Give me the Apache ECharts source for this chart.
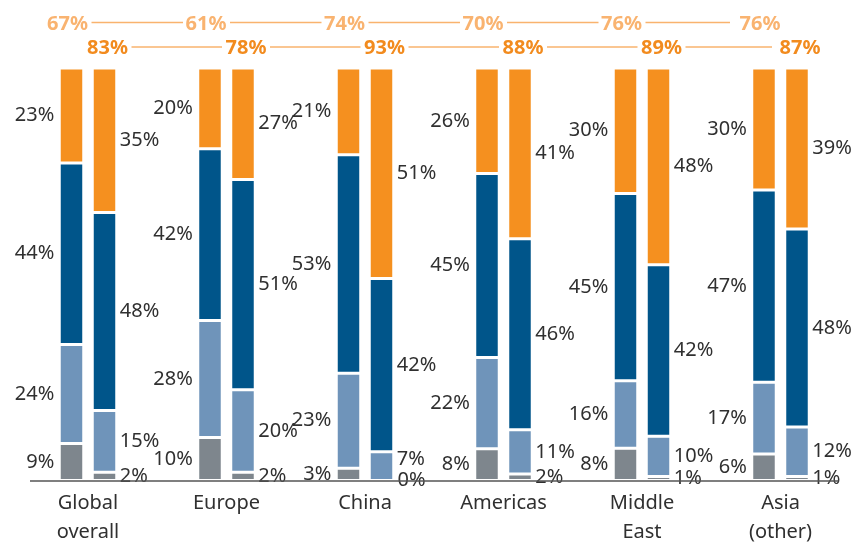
<!DOCTYPE html>
<html>
<head>
<meta charset="utf-8">
<script src="https://cdn.jsdelivr.net/npm/echarts@6/dist/echarts.min.js"></script>
<style>
html,body{margin:0;padding:0;background:#fff;}
#chart{width:851px;height:543px;}
</style>
</head>
<body>
<div id="chart"></div>
<script>
// Categories
const categories = ['Global\noverall', 'Europe', 'China', 'Americas', 'Middle\nEast', 'Asia\n(other)'];

// First (left) bar of each pair, bottom to top
const grayA   = [9, 10.4, 3, 7.7, 7.8, 6.4];
const lightA  = [24, 28.4, 23, 22.1, 16.4, 17.4];
const darkA   = [44, 41.6, 53, 44.6, 45.4, 46.6];
const orangeA = [23, 19.6, 21, 25.6, 30.4, 29.6];

// Second (right) bar of each pair, bottom to top
const grayB   = [2, 2, 0, 1.6, 1.0, 1];
const lightB  = [15, 20, 7, 10.7, 9.7, 12];
const darkB   = [48, 51, 42, 46.3, 41.6, 48];
const orangeB = [35, 27, 51, 41.4, 47.7, 39];

const FONT = '"Noto Sans", "Open Sans", sans-serif';
const TEXT = '#303030';
const COLORS = { gray: '#7E868D', light: '#6F94BA', dark: '#00558A', orange: '#F5901F' };

const totalsA = darkA.map((v, i) => Math.round(v + orangeA[i]));
const totalsB = darkB.map((v, i) => Math.round(v + orangeB[i]));

const BAR_W = 24.5;

function barSeries(name, data, stack, color, side, extra) {
  const s = {
    name: name,
    type: 'bar',
    stack: stack,
    data: data,
    barWidth: BAR_W,
    barGap: '34.7%',
    itemStyle: { color: color, borderColor: '#ffffff', borderWidth: 1.5 },
    label: {
      show: true,
      position: side,
      distance: side === 'left' ? 5 : 3,
      formatter: p => Math.round(p.value) + '%',
      fontSize: 20,
      fontFamily: FONT,
      color: TEXT
    },
    emphasis: { disabled: true },
    animation: false
  };
  return Object.assign(s, extra || {});
}

const chart = echarts.init(document.getElementById('chart'), null, { renderer: 'canvas' });

const option = {
  backgroundColor: '#ffffff',
  animation: false,
  grid: { left: 18.75, right: 1.25, top: 68, bottom: 62.5, containLabel: false, outerBoundsMode: 'none' },
  xAxis: {
    type: 'category',
    data: categories,
    axisLine: { show: false },
    axisTick: { show: false },
    splitLine: { show: false },
    axisLabel: { fontSize: 20, fontFamily: FONT, color: TEXT, lineHeight: 29, margin: 8, interval: 0 }
  },
  yAxis: { type: 'value', min: 0, max: 100, show: false },
  series: [
    barSeries('grayA', grayA, 'a', COLORS.gray, 'left'),
    barSeries('lightA', lightA, 'a', COLORS.light, 'left'),
    barSeries('darkA', darkA, 'a', COLORS.dark, 'left'),
    barSeries('orangeA', orangeA, 'a', COLORS.orange, 'left'),
    barSeries('grayB', grayB, 'b', COLORS.gray, 'right', {}),
    barSeries('lightB', lightB, 'b', COLORS.light, 'right', {
      labelLayout: p => (p.rect && p.rect.height < 35 ? { dy: -7 } : {})
    }),
    barSeries('darkB', darkB, 'b', COLORS.dark, 'right'),
    barSeries('orangeB', orangeB, 'b', COLORS.orange, 'right'),
    {
      type: 'custom',
      data: categories.map((c, i) => [i, totalsA[i], totalsB[i]]),
      clip: false,
      silent: true,
      z: 10,
      renderItem: function (params, api) {
        const i = api.value(0);
        const base = api.coord([i, 0]);
        const top = api.coord([i, 100])[1];
        const y1 = top - 45.5;
        const y2 = top - 21;
        const c1 = base[0] - 20.5;
        const c2 = base[0] + 19.5;
        const children = [
          { type: 'text', style: { text: api.value(1) + '%', x: c1, y: y1 + 1.5, align: 'center', verticalAlign: 'middle',
              fill: '#F9B370', fontSize: 20, fontWeight: 'bold', fontFamily: FONT } },
          { type: 'text', style: { text: api.value(2) + '%', x: c2, y: y2 + 1, align: 'center', verticalAlign: 'middle',
              fill: '#F28B1E', fontSize: 20, fontWeight: 'bold', fontFamily: FONT } }
        ];
        if (i < categories.length - 1) {
          const nx = api.coord([i + 1, 0])[0];
          const last = i === categories.length - 2;
          children.push({ type: 'line', shape: { x1: c1 + 24, y1: y1, x2: nx - 20.5 - (last ? 30 : 23), y2: y1 },
            style: { stroke: '#F9B36E', lineWidth: 1.5 } });
          children.push({ type: 'line', shape: { x1: c2 + 24, y1: y2, x2: nx + 19.5 - (last ? 28 : 24), y2: y2 },
            style: { stroke: '#F9B36E', lineWidth: 1.5 } });
        }
        if (i === 0) {
          const lx = api.coord([categories.length - 1, 0])[0];
          children.push({ type: 'line', shape: { x1: base[0] - 58, y1: base[1] + 0.5, x2: lx + 58, y2: base[1] + 0.5 },
            style: { stroke: '#555555', lineWidth: 1.5 } });
        }
        return { type: 'group', children: children };
      }
    }
  ]
};

chart.setOption(option);
</script>
</body>
</html>
